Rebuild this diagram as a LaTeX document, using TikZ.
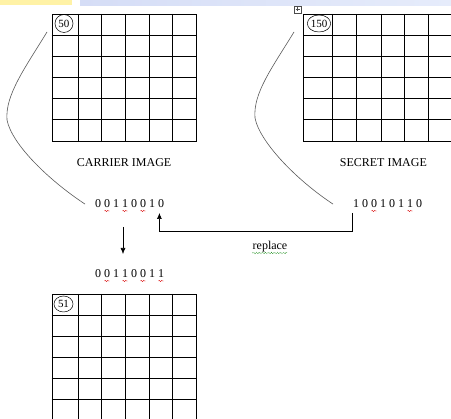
\documentclass[tikz,border=0pt]{standalone}
\usepackage{fontspec}
\setmainfont{Liberation Serif}
\usetikzlibrary{arrows.meta,positioning,shapes.geometric,decorations.pathmorphing}

\definecolor{bannerYellow}{HTML}{FFF2A6}
\definecolor{bannerBlue}{HTML}{D5DDF6}
\definecolor{bannerBlueLight}{HTML}{E6ECFB}

\begin{document}
\begin{tikzpicture}[
  x=1pt, y=-1pt,
  font=\fontsize{12}{14}\selectfont,
  gridbox/.style={
    draw,
    line width=0.7pt,
    inner sep=0pt,
    anchor=north west,
    minimum height=127pt
  },
  gridline/.style={line width=0.7pt},
  pixel/.style={
    draw,
    ellipse,
    inner sep=0pt,
    line width=0.5pt,
    font=\fontsize{11}{12}\selectfont
  },
  bits/.style={inner sep=0pt, anchor=base west},
  caption/.style={inner sep=0pt, anchor=base},
  curve/.style={draw=black!65, line width=0.6pt},
  flow/.style={-{Latex[length=6pt,width=5pt]}, line width=0.6pt},
  squig/.style={
    draw=red!85!black,
    line width=0.4pt,
    decorate,
    decoration={snake, amplitude=0.6pt, segment length=2.5pt}
  },
  gram/.style={
    draw=green!50!black,
    line width=0.6pt,
    densely dotted,
    decorate,
    decoration={snake, amplitude=0.7pt, segment length=3pt}
  }
]

\useasboundingbox (0,0) rectangle (451,419);
\clip (0,0) rectangle (451,419);

% Banner strip
\fill[bannerYellow] (0,0) rectangle (72,5);
\fill[left color=bannerBlue, right color=bannerBlueLight] (80,0) rectangle (451,6);

% Carrier image
\node[gridbox, minimum width=144.5pt] (carrier) at (51.5,14) {};
\foreach \cx in {26.5,50,74,97.5,121}
  \draw[gridline] ([xshift=\cx pt]carrier.north west) -- ([xshift=\cx pt]carrier.south west);
\foreach \cy in {21,42.7,63.3,84.3,105.3}
  \draw[gridline] ([yshift=-\cy pt]carrier.north west) -- ([yshift=-\cy pt]carrier.north east);
\node[pixel, minimum width=18pt, minimum height=18pt] (p50) at (64,23.5) {50};
\node[caption] (carrierLabel) at ([yshift=-25pt]carrier.south) {CARRIER IMAGE};

% Secret image
\draw[line width=0.4pt, black!70] (294,6) rectangle (301,13);
\draw[line width=0.4pt, black!70] (297.5,7.5) -- (297.5,11.5) (295.5,9.5) -- (299.5,9.5);
\node[gridbox, minimum width=149pt] (secret) at (303,14) {};
\foreach \cx in {29,53,78,101,125}
  \draw[gridline] ([xshift=\cx pt]secret.north west) -- ([xshift=\cx pt]secret.south west);
\foreach \cy in {21,42.7,63.3,84.3,105.3}
  \draw[gridline] ([yshift=-\cy pt]secret.north west) -- ([yshift=-\cy pt]secret.north east);
\node[pixel, minimum width=22pt, minimum height=17pt] (p150) at (319,23.5) {150};
\node[caption] (secretLabel) at ([shift={(5.5,25)}]secret.south) {SECRET IMAGE};

% Bit strings
\node[bits] (cbits) at (95,208) {0 0 1 1 0 0 1 0};
\node[bits] (sbits) at (353,208) {1 0 0 1 0 1 1 0};
\node[bits] (nbits) at (95,278) {0 0 1 1 0 0 1 1};

\foreach \k in {1,3,5}
  \draw[squig] ([shift={(\k*9+0.5,3)}]cbits.base west) -- ++(5,0);
\foreach \k in {2,6}
  \draw[squig] ([shift={(\k*9+0.5,3)}]sbits.base west) -- ++(5,0);
\foreach \k in {1,3,5,7}
  \draw[squig] ([shift={(\k*9+0.5,3)}]nbits.base west) -- ++(5,0);

% Curves from first pixel to bits
\draw[curve] ([shift={(-4.5,18)}]carrier.north west)
  .. controls +(-22,36) and +(-2,-25) .. ([shift={(-44.5,106)}]carrier.north west)
  .. controls +(5,25) and +(-35,-23) .. ([xshift=-10pt]cbits.west);
\draw[curve] ([shift={(-9,18)}]secret.north west)
  .. controls +(-22,36) and +(-2,-25) .. ([shift={(-48,104)}]secret.north west)
  .. controls +(5,25) and +(-35,-23) .. ([xshift=-20pt]sbits.west);

% Replace and result arrows
\draw[flow] ([shift={(-1,5)}]sbits.base west) -- ++(0,18) -| ([shift={(-5,5)}]cbits.base east);
\node[caption] (replace) at (270,250) {replace};
\draw[gram] ([shift={(0,3)}]replace.base west) -- ([shift={(0,3)}]replace.base east);
\draw[flow] ([shift={(28,19)}]cbits.base west) -- ([shift={(28,-24)}]nbits.base west);

% Result image
\node[gridbox, minimum width=144.5pt] (result) at (51.5,294) {};
\foreach \cx in {26.5,50,74,97.5,121}
  \draw[gridline] ([xshift=\cx pt]result.north west) -- ([xshift=\cx pt]result.south west);
\foreach \cy in {21,42.7,63.3,84.3,105.3}
  \draw[gridline] ([yshift=-\cy pt]result.north west) -- ([yshift=-\cy pt]result.north east);
\node[pixel, minimum width=19pt, minimum height=16pt] (p51) at (63.5,304) {51};

\end{tikzpicture}
\end{document}
